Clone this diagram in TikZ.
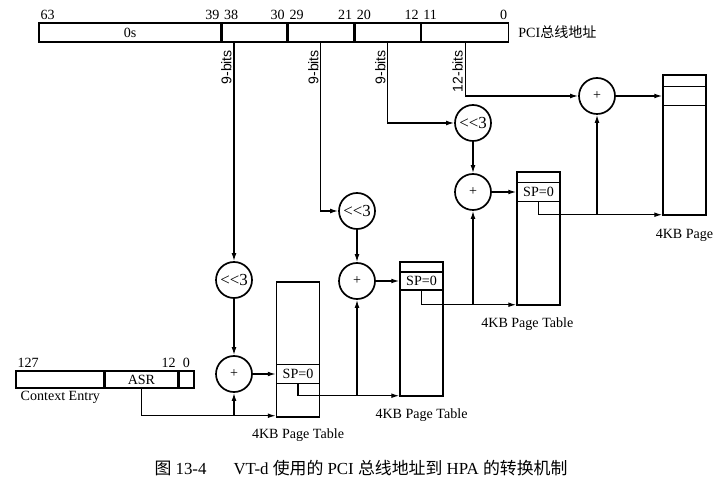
\documentclass[tikz,border=0pt]{standalone}
\usepackage{fontspec}
\setmainfont{Liberation Serif}
\setsansfont{Liberation Sans}
\newfontfamily\cjk{Noto Sans CJK SC}
\usetikzlibrary{arrows.meta, positioning}
\tikzset{
	fld/.style ={draw, line width=1pt, minimum height=0.475cm, inner sep=0pt},
	tbl/.style ={draw, line width=1pt, minimum width=1.075cm, inner sep=0pt},
	cell/.style={draw, line width=1pt, minimum width=1.075cm, minimum height=0.475cm, inner sep=0pt},
	op/.style  ={circle, draw, line width=1.2pt, minimum size=0.9cm, inner sep=0pt},
	arr/.style ={-{Latex[length=2mm, width=1.2mm]}, line width=0.9pt},
	% bit numbers and field widths
	bitno/.style={inner sep=1.5pt},
	bitw/.style ={rotate=90, anchor=south east, font=\sffamily, inner sep=1.5pt},
}
\begin{document}
\begin{tikzpicture}[x=0.025cm, y=-0.025cm]
	\useasboundingbox (0,0) rectangle (722,484);
	% PCI bus address
	\node[fld, minimum width=4.55cm] (f0) at (130,32.5) {0s};
	\node[fld, minimum width=1.6cm, right=0pt of f0] (f1) {};
	\node[fld, minimum width=1.65cm, right=0pt of f1] (f2) {};
	\node[fld, minimum width=1.625cm, right=0pt of f2] (f3) {};
	\node[fld, minimum width=2.175cm, right=0pt of f3] (f4) {};
	\node[right=0.1cm of f4] (pci) {PCI{\cjk 总线地址}};
	\node[bitno, anchor=south west] at (f0.north west) {63};
	\node[bitno, anchor=south east] at (f0.north east) {39};
	\node[bitno, anchor=south west] at (f1.north west) {38};
	\node[bitno, anchor=south east] at (f1.north east) {30};
	\node[bitno, anchor=south west] at (f2.north west) {29};
	\node[bitno, anchor=south east] at (f2.north east) {21};
	\node[bitno, anchor=south west] at (f3.north west) {20};
	\node[bitno, anchor=south east] at (f3.north east) {12};
	\node[bitno, anchor=south west] at (f4.north west) {11};
	\node[bitno, anchor=south east] at (f4.north east) {0};

	% context entry
	\node[fld, minimum width=2.2cm, minimum height=0.425cm] (c0) at (60,379.5) {};
	\node[fld, minimum width=1.8cm, minimum height=0.425cm, right=0pt of c0] (c1) {ASR};
	\node[fld, minimum width=0.375cm, minimum height=0.425cm, right=0pt of c1] (c2) {};
	\node[bitno, anchor=south west] at (c0.north west) {127};
	\node[bitno, anchor=south east] at (c1.north east) {12};
	\node[bitno, anchor=south] at (c2.north) {0};
	\node[anchor=north west, inner sep=1.5pt] (ctx) at ([xshift=0.075cm]c0.south west) {Context Entry};

	% shifters and adders
	\node[op, font=\large] (sh1) at (234,280) {<{}<3};
	\node[op, font=\large] (sh2) at (357,211) {<{}<3};
	\node[op, font=\large] (sh3) at (473,123) {<{}<3};
	\node[op] (ad1) at (234,374) {+};
	\node[op] (ad2) at (357,281) {+};
	\node[op] (ad3) at (473,192) {+};
	\node[op] (ad4) at (597,96) {+};

	% page tables and page
	\node[tbl, minimum height=3.375cm] (t1) at (298,349.5) {};
	\node[cell] (e1) at (298,374) {SP=0};
	\node[tbl, minimum height=3.35cm] (t2) at (421.5,329) {};
	\node[cell, minimum height=0.45cm] (e2) at (421.5,281) {SP=0};
	\node[tbl, minimum height=3.325cm] (t3) at (538.5,238.5) {};
	\node[cell] (e3) at (538.5,192) {SP=0};
	\node[tbl, minimum height=3.5cm] (pg) at (684.5,145) {};
	\node[cell] (pe) at (684.5,96) {};
	\node[below=4pt of t1] (l1) {4KB Page Table};
	\node[below=5pt of t2] (l2) {4KB Page Table};
	\node[below=5pt of t3, xshift=-0.28cm] (l3) {4KB Page Table};
	\node[below=6pt of pg] (l4) {4KB Page};

	% address bits
	\coordinate (b1) at (f1.south -| sh1);
	\draw[arr] (b1) -- (sh1);
	\draw[arr] (f2.south) |- (sh2);
	\draw[arr] (f3.south) |- (sh3);
	\draw[arr] (f4.south) |- (ad4);
	\node[bitw] at ([yshift=-0.125cm]b1) {9-bits};
	\node[bitw] at ([yshift=-0.125cm]f2.south) {9-bits};
	\node[bitw] at ([yshift=-0.125cm]f3.south) {9-bits};
	\node[bitw] at ([yshift=-0.125cm]f4.south) {12-bits};

	\draw[arr] (sh1) -- (ad1);
	\draw[arr] (sh2) -- (ad2);
	\draw[arr] (sh3) -- (ad3);
	\draw[arr] (ad1) -- (e1);
	\draw[arr] (ad2) -- (e2);
	\draw[arr] (ad3) -- (e3);
	\draw[arr] (ad4) -- (pe);

	% table pointers
	\coordinate (p1) at ([yshift=0.05cm]t1.south west);
	\coordinate (p2) at ([yshift=0.025cm]t2.south west);
	\coordinate (p3) at ([yshift=0.025cm]t3.south west);
	\coordinate (p4) at ([yshift=0.025cm]pg.south west);
	\draw[arr] (c1.south) |- (p1);
	\draw[arr] (ad1 |- p1) -- (ad1);
	\draw[arr] (e1.south) |- (p2);
	\draw[arr] (ad2 |- p2) -- (ad2);
	\draw[arr] (e2.south) |- (p3);
	\draw[arr] (ad3 |- p3) -- (ad3);
	\draw[arr] (e3.south) |- (p4);
	\draw[arr] (ad4 |- p4) -- (ad4);

	% caption
	\node[font=\large] (cap) at (361,468) {{\cjk 图} 13-4\hspace{1.6em}VT-d {\cjk 使用的} PCI {\cjk 总线地址到} HPA {\cjk 的转换机制}};
\end{tikzpicture}
\end{document}
